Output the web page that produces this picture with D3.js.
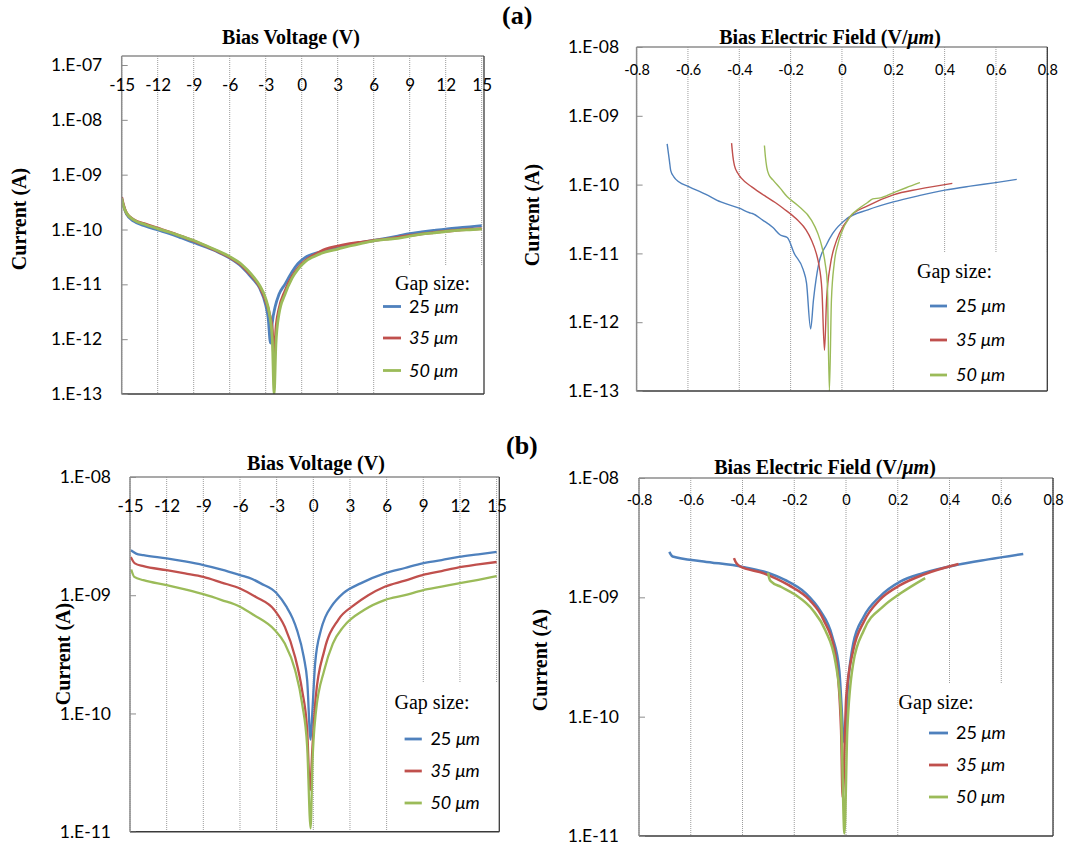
<!DOCTYPE html>
<html><head><meta charset="utf-8">
<script src="https://cdn.jsdelivr.net/npm/d3@7"></script>
<style>body{margin:0;background:#fff}</style>
</head><body><svg id="c" width="1067" height="854"></svg>
<script>
// ---------- tick labels ----------
const voltTicks = [-15,-12,-9,-6,-3,0,3,6,9,12,15];
const voltTickLabels = ["-15","-12","-9","-6","-3","0","3","6","9","12","15"];
const fieldTicks = [-0.8,-0.6,-0.4,-0.2,0,0.2,0.4,0.6,0.8];
const fieldTickLabels = ["-0.8","-0.6","-0.4","-0.2","0","0.2","0.4","0.6","0.8"];
const yTicksA = [1e-13,1e-12,1e-11,1e-10,1e-9,1e-8,1e-7];
const yTickLabelsA = ["1.E-13","1.E-12","1.E-11","1.E-10","1.E-09","1.E-08","1.E-07"];
const yTicksAField = [1e-13,1e-12,1e-11,1e-10,1e-9,1e-8];
const yTickLabelsAField = ["1.E-13","1.E-12","1.E-11","1.E-10","1.E-09","1.E-08"];
const yTicksB = [1e-11,1e-10,1e-9,1e-8];
const yTickLabelsB = ["1.E-11","1.E-10","1.E-09","1.E-08"];
const gapSizes = ["25","35","50"];

// ---------- (a) current vs bias voltage [V, A] ----------
const aVolt25 = [[-15,3.6e-10],[-14.85,2.7e-10],[-14.6,1.9e-10],[-14,1.42e-10],[-13,1.15e-10],[-12,9.8e-11],[-11,8.4e-11],[-10,7.0e-11],[-9,5.8e-11],[-8,4.8e-11],[-7,3.9e-11],[-6,3.0e-11],[-5,2.1e-11],[-4.5,1.6e-11],[-4,1.2e-11],[-3.5,8.5e-12],[-3.0,4.2e-12],[-2.8,2.5e-12],[-2.6,8.5e-13],[-2.45,2.0e-12],[-2.2,4.0e-12],[-1.9,6.5e-12],[-1.4,1.0e-11],[-0.8,1.7e-11],[-0.3,2.4e-11],[0.3,3.1e-11],[1,3.6e-11],[2,4.1e-11],[3,4.7e-11],[4,5.3e-11],[5,5.8e-11],[6,6.3e-11],[7,6.9e-11],[8,7.6e-11],[9,8.4e-11],[10,9.0e-11],[11,9.6e-11],[12,1.02e-10],[13,1.07e-10],[14,1.12e-10],[15,1.18e-10]];
const aVolt35 = [[-15,3.9e-10],[-14.85,2.8e-10],[-14.6,2.0e-10],[-14,1.52e-10],[-13,1.25e-10],[-12,1.06e-10],[-11,9.0e-11],[-10,7.5e-11],[-9,6.2e-11],[-8,5.0e-11],[-7,4.0e-11],[-6,3.1e-11],[-5,2.2e-11],[-4.5,1.7e-11],[-4,1.3e-11],[-3.5,9e-12],[-3.0,5e-12],[-2.7,3e-12],[-2.45,1.5e-12],[-2.3,4e-13],[-2.15,1.5e-12],[-1.9,3.5e-12],[-1.4,7.5e-12],[-0.8,1.4e-11],[-0.3,2.0e-11],[0.3,2.7e-11],[1,3.4e-11],[2,4.4e-11],[3,5.0e-11],[4,5.5e-11],[5,5.9e-11],[6,6.3e-11],[7,6.7e-11],[8,7.2e-11],[9,7.8e-11],[10,8.3e-11],[11,8.8e-11],[12,9.3e-11],[13,9.7e-11],[14,1.01e-10],[15,1.04e-10]];
const aVolt50 = [[-15,3.7e-10],[-14.85,2.7e-10],[-14.6,2.0e-10],[-14,1.5e-10],[-13,1.22e-10],[-12,1.04e-10],[-11,8.9e-11],[-10,7.5e-11],[-9,6.3e-11],[-8,5.1e-11],[-7,4.1e-11],[-6,3.2e-11],[-5,2.3e-11],[-4.5,1.8e-11],[-4,1.35e-11],[-3.5,9.5e-12],[-3.0,5.5e-12],[-2.7,3e-12],[-2.45,1e-12],[-2.3,1e-13],[-2.15,8e-13],[-1.9,2.8e-12],[-1.4,6.5e-12],[-0.8,1.3e-11],[-0.3,1.9e-11],[0.3,2.6e-11],[1,3.2e-11],[2,3.9e-11],[3,4.4e-11],[4,5.0e-11],[5,5.6e-11],[6,6.2e-11],[7,6.6e-11],[8,6.9e-11],[9,7.6e-11],[10,8.2e-11],[11,8.7e-11],[12,9.2e-11],[13,9.6e-11],[14,9.9e-11],[15,1.02e-10]];

// ---------- (a) current vs bias field [V/um, A] ----------
const aField25 = [[-0.681,3.9e-10],[-0.672,2.2e-10],[-0.667,1.6e-10],[-0.655,1.3e-10],[-0.636,1.1e-10],[-0.595,9.3e-11],[-0.53,7.2e-11],[-0.472,5.6e-11],[-0.397,4.5e-11],[-0.36,3.9e-11],[-0.349,3.8e-11],[-0.309,3.05e-11],[-0.27,2.4e-11],[-0.24,1.85e-11],[-0.213,1.7e-11],[-0.186,1.0e-11],[-0.151,5.8e-12],[-0.138,3.7e-12],[-0.122,8e-13],[-0.111,2.1e-12],[-0.09,7.2e-12],[-0.06,1.35e-11],[-0.036,1.95e-11],[0.019,3.2e-11],[0.101,4.3e-11],[0.2,5.6e-11],[0.3,6.9e-11],[0.401,8.3e-11],[0.5,9.5e-11],[0.599,1.07e-10],[0.681,1.19e-10]];
const aField35 = [[-0.43,4.0e-10],[-0.425,2.6e-10],[-0.419,1.9e-10],[-0.405,1.45e-10],[-0.392,1.24e-10],[-0.35,9.2e-11],[-0.296,6.7e-11],[-0.26,5.5e-11],[-0.228,4.5e-11],[-0.173,3.05e-11],[-0.14,2.2e-11],[-0.119,1.57e-11],[-0.1,1.0e-11],[-0.091,7.2e-12],[-0.078,2.9e-12],[-0.068,3.9e-13],[-0.06,2.1e-12],[-0.044,7.2e-12],[-0.025,1.4e-11],[-0.01,1.95e-11],[0.031,3.4e-11],[0.1,4.9e-11],[0.2,7.1e-11],[0.3,8.6e-11],[0.43,1.04e-10]];
const aField50 = [[-0.302,3.7e-10],[-0.298,2.5e-10],[-0.293,1.8e-10],[-0.285,1.4e-10],[-0.269,1.17e-10],[-0.24,8.8e-11],[-0.214,6.7e-11],[-0.173,5.0e-11],[-0.119,3.05e-11],[-0.095,2.0e-11],[-0.078,1.25e-11],[-0.065,7e-12],[-0.057,3.7e-12],[-0.049,1e-13],[-0.041,2.1e-12],[-0.03,7.2e-12],[-0.015,1.4e-11],[-0.003,1.95e-11],[0.031,3.4e-11],[0.07,4.6e-11],[0.1,5.5e-11],[0.12,6.2e-11],[0.15,6.4e-11],[0.2,7.6e-11],[0.25,9.0e-11],[0.304,1.07e-10]];

// ---------- (b) current vs bias voltage [V, A] ----------
const bVolt25 = [[-14.93,2.4e-9],[-14.5,2.25e-9],[-13.9,2.18e-9],[-12,2.05e-9],[-10.5,1.93e-9],[-9,1.8e-9],[-7.5,1.65e-9],[-6,1.48e-9],[-5,1.37e-9],[-4.3,1.26e-9],[-3,1.04e-9],[-2.2,8e-10],[-1.7,6.4e-10],[-1.34,5.1e-10],[-0.78,3.0e-10],[-0.5,1.9e-10],[-0.22,6e-11],[-0.07,1.07e-10],[0.15,2.65e-10],[0.63,5.1e-10],[1.0,6.6e-10],[1.47,8e-10],[2.46,1.04e-9],[3.87,1.26e-9],[5.84,1.53e-9],[7.5,1.7e-9],[8.94,1.86e-9],[10.5,1.98e-9],[11.9,2.11e-9],[13.5,2.22e-9],[15,2.33e-9]];
const bVolt35 = [[-14.93,2.1e-9],[-14.6,1.86e-9],[-13.9,1.76e-9],[-12,1.63e-9],[-10.5,1.53e-9],[-9,1.43e-9],[-7.5,1.28e-9],[-6,1.14e-9],[-4.73,9.7e-10],[-3.18,7.5e-10],[-2.33,5.4e-10],[-1.49,3.0e-10],[-0.92,1.58e-10],[-0.5,7.2e-11],[-0.27,2.25e-11],[-0.07,5.2e-11],[0.2,1.38e-10],[0.9,3.4e-10],[2.04,6.2e-10],[3.3,8.2e-10],[4.5,1.0e-9],[5.84,1.18e-9],[7.5,1.33e-9],[8.94,1.48e-9],[10.5,1.6e-9],[11.9,1.72e-9],[13.5,1.82e-9],[15,1.91e-9]];
const bVolt50 = [[-14.9,1.65e-9],[-14.65,1.43e-9],[-13.9,1.34e-9],[-12,1.22e-9],[-10.5,1.12e-9],[-9,1.02e-9],[-7.5,9.1e-10],[-6,8e-10],[-4.87,6.8e-10],[-3.18,5.1e-10],[-2.33,3.9e-10],[-1.49,2.33e-10],[-0.92,1.22e-10],[-0.5,5.2e-11],[-0.22,1.07e-11],[-0.07,3.8e-11],[0.2,1.0e-10],[0.9,2.33e-10],[1.6,3.9e-10],[2.46,5.4e-10],[4.15,7.5e-10],[5.84,9.1e-10],[7.5,1.0e-9],[8.94,1.1e-9],[10.5,1.18e-9],[11.9,1.26e-9],[13.5,1.35e-9],[15,1.45e-9]];

// ---------- (b) current vs bias field [V/um, A] ----------
const bField25 = [[-0.683,2.4e-9],[-0.675,2.25e-9],[-0.67,2.2e-9],[-0.55,2.0e-9],[-0.399,1.8e-9],[-0.3,1.6e-9],[-0.236,1.4e-9],[-0.155,1.08e-9],[-0.101,7.8e-10],[-0.053,4.7e-10],[-0.026,2.46e-10],[-0.006,6e-11],[0.008,1.9e-10],[0.028,4.1e-10],[0.069,6.9e-10],[0.13,1.01e-9],[0.211,1.36e-9],[0.3,1.6e-9],[0.428,1.87e-9],[0.55,2.08e-9],[0.685,2.31e-9]];
const bField35 = [[-0.433,2.13e-9],[-0.425,1.95e-9],[-0.412,1.83e-9],[-0.318,1.59e-9],[-0.223,1.27e-9],[-0.141,9.5e-10],[-0.087,6.5e-10],[-0.04,3.2e-10],[-0.019,7.7e-11],[-0.013,2.1e-11],[0.001,1.47e-10],[0.028,3.6e-10],[0.069,6.25e-10],[0.13,9.5e-10],[0.211,1.27e-9],[0.3,1.55e-9],[0.435,1.9e-9]];
const bField50 = [[-0.301,1.61e-9],[-0.297,1.45e-9],[-0.29,1.36e-9],[-0.25,1.22e-9],[-0.196,1.05e-9],[-0.128,7.8e-10],[-0.08,5.3e-10],[-0.04,2.8e-10],[-0.019,1.07e-10],[-0.006,1.05e-11],[0.005,7.7e-11],[0.028,2.8e-10],[0.069,5.3e-10],[0.143,8.35e-10],[0.211,1.08e-9],[0.306,1.45e-9]];

// ---------- drawing ----------
const svg = d3.select("#c");
const SERIF = "'Liberation Serif','Times New Roman',serif";
const SANS = "Lato,'Open Sans',sans-serif";
const colors = ["#4F81BD","#C0504D","#9BBB59"];

function panel(cfg){
  const g = svg.append("g");
  const x = d3.scaleLinear().domain(cfg.xDomain).range([cfg.x0, cfg.x1]);
  const y = d3.scaleLog().domain(cfg.yDomain).range([cfg.yBot, cfg.yTop]);

  // gridlines
  g.append("g").selectAll("line").data(cfg.xTicks).join("line")
    .attr("x1", d => x(d)).attr("x2", d => x(d))
    .attr("y1", cfg.top).attr("y2", cfg.bottom)
    .attr("stroke", "#9c9c9c").attr("stroke-width", 1).attr("stroke-dasharray", "1,1");

  // legend background (covers gridlines)
  g.append("rect").attr("x", cfg.leg.bx).attr("y", cfg.leg.by)
    .attr("width", cfg.right - cfg.leg.bx).attr("height", cfg.bottom - cfg.leg.by)
    .attr("fill", "#fff");

  // clip
  const cid = "clip" + cfg.id;
  svg.append("clipPath").attr("id", cid).append("rect")
    .attr("x", cfg.x0).attr("y", cfg.top).attr("width", cfg.right - cfg.x0).attr("height", cfg.bottom - cfg.top);

  const line = d3.line().x(d => x(d[0])).y(d => y(d[1])).curve(d3.curveMonotoneX);
  cfg.series.forEach((s, i) => {
    g.append("path").attr("d", line(s)).attr("fill", "none")
      .attr("stroke", colors[i]).attr("stroke-width", cfg.lw)
      .attr("stroke-linejoin", "round").attr("clip-path", `url(#${cid})`);
  });

  // borders
  g.append("line").attr("x1", cfg.x0).attr("x2", cfg.right).attr("y1", cfg.top).attr("y2", cfg.top).attr("stroke", "#8c8c8c").attr("stroke-width", 1.5);
  g.append("line").attr("x1", cfg.right).attr("x2", cfg.right).attr("y1", cfg.top).attr("y2", cfg.bottom).attr("stroke", "#3a3a3a").attr("stroke-width", 1.3);
  g.append("line").attr("x1", cfg.x0).attr("x2", cfg.right).attr("y1", cfg.bottom).attr("y2", cfg.bottom).attr("stroke", "#3a3a3a").attr("stroke-width", 1.5);
  g.append("line").attr("x1", cfg.x0).attr("x2", cfg.x0).attr("y1", cfg.top).attr("y2", cfg.bottom).attr("stroke", "#8c8c8c").attr("stroke-width", 1.5);

  // y axis
  const ya = d3.axisLeft(y).tickValues(cfg.yTicks).tickFormat((d, i) => cfg.yLabels[i])
    .tickSizeInner(-6).tickSizeOuter(0).tickPadding(cfg.yPad);
  const yg = g.append("g").attr("transform", `translate(${cfg.x0},0)`).call(ya);
  yg.select(".domain").remove();
  yg.selectAll(".tick line").attr("stroke", "#8c8c8c").attr("stroke-width", 1);
  yg.selectAll("text").attr("font-family", SANS).attr("font-size", 17.5).attr("fill", "#000");

  // x axis labels
  const xa = d3.axisBottom(x).tickValues(cfg.xTicks).tickFormat((d, i) => cfg.xLabels[i]).tickSize(0).tickPadding(0);
  const xg = g.append("g").attr("transform", `translate(0,${cfg.xLabelY})`).call(xa);
  xg.select(".domain").remove();
  xg.selectAll("text").attr("y", 0).attr("dy", "0.35em")
    .attr("font-family", SANS).attr("font-size", cfg.xFont).attr("fill", "#000");

  // title
  const t = g.append("text").attr("x", cfg.title.x).attr("y", cfg.title.y).attr("text-anchor", "middle")
    .attr("font-family", SERIF).attr("font-weight", "bold").attr("font-size", 20);
  t.append("tspan").text(cfg.title.main);
  if (cfg.title.ital) {
    t.append("tspan").attr("font-style", "italic").text(cfg.title.ital);
    t.append("tspan").text(")");
  }

  // y title
  g.append("text").attr("transform", `translate(${cfg.ylab.x},${cfg.ylab.y}) rotate(-90)`)
    .attr("text-anchor", "middle").attr("dy", "0.35em")
    .attr("font-family", SERIF).attr("font-weight", "bold").attr("font-size", 20).text("Current (A)");

  // legend
  g.append("text").attr("x", cfg.leg.tx).attr("y", cfg.leg.ty).attr("font-family", SERIF).attr("font-size", 20).text("Gap size:");
  gapSizes.forEach((gs, i) => {
    const ly = cfg.leg.rows[i];
    g.append("line").attr("x1", cfg.leg.lx0).attr("x2", cfg.leg.lx1).attr("y1", ly).attr("y2", ly)
      .attr("stroke", colors[i]).attr("stroke-width", 2.8);
    const tt = g.append("text").attr("x", cfg.leg.txt).attr("y", ly).attr("dy", "0.36em")
      .attr("font-family", SANS).attr("font-size", 18);
    tt.append("tspan").attr("font-style", i === 0 ? "normal" : "italic").text(gs + " ");
    tt.append("tspan").attr("font-style", "italic").text("\u03BCm");
  });
}

panel({id: "tl", xDomain: [-15, 15], x0: 121.7, x1: 481.7, right: 484, top: 56, bottom: 394,
  yDomain: [1e-13, 1e-7], yTop: 65, yBot: 394, yTicks: yTicksA, yLabels: yTickLabelsA, yPad: 19.5,
  xTicks: voltTicks, xLabels: voltTickLabels, xLabelY: 85, xFont: 17,
  series: [aVolt25, aVolt35, aVolt50], lw: 2.8,
  title: {x: 291, y: 44, main: "Bias Voltage (V)"}, ylab: {x: 19, y: 219},
  leg: {bx: 378, by: 265, tx: 395, ty: 290, lx0: 383, lx1: 401, txt: 409, rows: [306.5, 338, 370.5]}});

panel({id: "tr", xDomain: [-0.8, 0.8], x0: 636.6, x1: 1047.3, right: 1047.3, top: 47, bottom: 391,
  yDomain: [1e-13, 1e-8], yTop: 47, yBot: 391, yTicks: yTicksAField, yLabels: yTickLabelsAField, yPad: 17.5,
  xTicks: fieldTicks, xLabels: fieldTickLabels, xLabelY: 70, xFont: 14.5,
  series: [aField25, aField35, aField50], lw: 1.4,
  title: {x: 830, y: 44, main: "Bias Electric Field (V/", ital: "\u03BCm"}, ylab: {x: 532, y: 215},
  leg: {bx: 900, by: 252, tx: 917, ty: 278, lx0: 930, lx1: 947, txt: 956, rows: [306, 340, 375]}});

panel({id: "bl", xDomain: [-15, 15], x0: 130, x1: 496.6, right: 499.3, top: 477, bottom: 831.7,
  yDomain: [1e-11, 1e-8], yTop: 477, yBot: 831.7, yTicks: yTicksB, yLabels: yTickLabelsB, yPad: 19,
  xTicks: voltTicks, xLabels: voltTickLabels, xLabelY: 506, xFont: 17,
  series: [bVolt25, bVolt35, bVolt50], lw: 2.3,
  title: {x: 316, y: 470, main: "Bias Voltage (V)"}, ylab: {x: 63, y: 654},
  leg: {bx: 400, by: 683, tx: 394.5, ty: 709, lx0: 404.6, lx1: 421.8, txt: 430.4, rows: [739, 771, 803]}});

panel({id: "br", xDomain: [-0.8, 0.8], x0: 639, x1: 1053, right: 1053, top: 478, bottom: 836,
  yDomain: [1e-11, 1e-8], yTop: 478, yBot: 836, yTicks: yTicksB, yLabels: yTickLabelsB, yPad: 20,
  xTicks: fieldTicks, xLabels: fieldTickLabels, xLabelY: 500, xFont: 14.5,
  series: [bField25, bField35, bField50], lw: 2.5,
  title: {x: 825, y: 474, main: "Bias Electric Field (V/", ital: "\u03BCm"}, ylab: {x: 540, y: 660},
  leg: {bx: 905, by: 683, tx: 898.6, ty: 709, lx0: 929, lx1: 948, txt: 956, rows: [733, 765, 797]}});

// panel letters
svg.append("text").attr("x", 502).attr("y", 24).attr("font-family", SERIF).attr("font-weight", "bold").attr("font-size", 26).text("(a)");
svg.append("text").attr("x", 506).attr("y", 454).attr("font-family", SERIF).attr("font-weight", "bold").attr("font-size", 26).text("(b)");
</script>
</body></html>
